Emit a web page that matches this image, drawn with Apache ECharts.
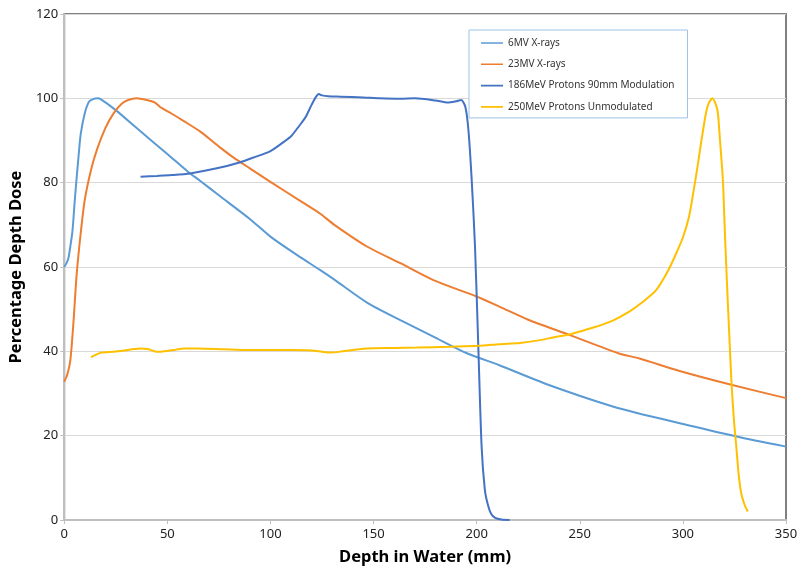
<!DOCTYPE html>
<html>
<head>
<meta charset="utf-8">
<script src="https://cdn.jsdelivr.net/npm/echarts@6/dist/echarts.min.js"></script>
<style>html,body{margin:0;padding:0;background:#fff}#c{width:807px;height:571px}</style>
</head>
<body>
<div id="c"></div>
<script>
var seriesNames = ['6MV X-rays', '23MV X-rays', '186MeV Protons 90mm Modulation', '250MeV Protons Unmodulated'];
var xTicks = [0, 50, 100, 150, 200, 250, 300, 350];
var yTicks = [0, 20, 40, 60, 80, 100, 120];

var x6MV = [0, 1, 2, 3, 4, 5, 6, 7, 8, 10, 12, 14, 16, 18, 25, 35, 50, 60, 66, 75, 90, 100, 113, 124, 131, 147, 163, 179, 195, 211, 234, 266, 280, 299, 326, 350];
var y6MV = [60, 60.8, 62, 65, 68.5, 75, 81, 86.5, 91.5, 96.5, 99.2, 99.8, 100, 99.7, 97.2, 93, 86.8, 82.6, 80.4, 77, 71.4, 67.2, 62.8, 59.3, 57, 51.5, 47.4, 43.5, 39.6, 36.7, 32.2, 26.9, 25.1, 22.9, 19.8, 17.4];

var x23MV = [0, 1.5, 3, 4.5, 6, 8, 10, 13, 16, 20, 24, 28, 31, 35, 40, 44, 47, 52, 58, 66, 76, 82, 90, 100, 115, 124, 131, 147, 163, 179, 200, 211, 225, 245, 269, 279, 298, 324, 350];
var y23MV = [32.8, 34.5, 38, 47, 58, 68, 76, 83, 88, 93, 96.5, 98.8, 99.6, 100, 99.6, 99, 97.8, 96.4, 94.6, 92.1, 88.2, 86, 83.4, 80.2, 75.5, 72.7, 70, 64.8, 60.9, 56.9, 53, 50.6, 47.5, 43.9, 39.5, 38.3, 35.4, 32, 28.9];

var x186 = [37, 45, 52, 61, 74, 85, 92, 100, 106, 110, 114, 117, 120, 122, 123.5, 125, 128, 134, 145, 153, 163, 170, 180, 186, 190, 192.5, 194.5, 196, 197.6, 199.2, 200.8, 202.4, 204, 205.5, 207, 209, 212, 216];
var y186 = [81.4, 81.6, 81.8, 82.2, 83.4, 84.8, 86, 87.5, 89.5, 91, 93.5, 95.5, 98.5, 100.3, 101, 100.7, 100.5, 100.4, 100.2, 100, 99.9, 100, 99.5, 99, 99.3, 99.6, 98, 92.5, 80.6, 64.8, 41.1, 17.4, 7, 3.5, 1.5, 0.5, 0.1, 0];

var x250 = [13, 15, 18, 24, 29, 33, 37, 41, 45, 50, 54, 58, 65, 77, 89, 110, 120, 125, 129, 135, 141, 147, 160, 171, 187, 201, 211, 221, 230, 237, 245, 250, 257, 266, 274, 280, 287, 293, 297, 300, 303, 305, 307, 309, 311, 312.5, 314.3, 316, 317, 318, 319.4, 320.3, 321.3, 322.4, 323.5, 324.7, 325.9, 327, 328.3, 330, 331.5];
var y250 = [38.6, 39.1, 39.7, 39.9, 40.2, 40.5, 40.7, 40.5, 39.9, 40.1, 40.4, 40.7, 40.7, 40.5, 40.3, 40.3, 40.2, 39.9, 39.7, 40, 40.4, 40.7, 40.8, 40.9, 41.1, 41.3, 41.7, 42, 42.6, 43.3, 44, 44.7, 45.7, 47.3, 49.4, 51.5, 54.5, 59.3, 63.5, 67, 72, 77.5, 83.5, 90, 96, 98.8, 100, 98.5, 96.4, 90, 80.6, 69, 57, 45, 33.2, 24, 17.4, 11, 6.3, 3.5, 2];

var colors = ['#5B9BD5', '#ED7D31', '#4472C4', '#FFC000'];
var FONT = 'Noto Sans';

function zip(xs, ys) { return xs.map(function (v, i) { return [v, ys[i]]; }); }
var allX = [x6MV, x23MV, x186, x250];
var allY = [y6MV, y23MV, y186, y250];

var chart = echarts.init(document.getElementById('c'), null, { renderer: 'canvas' });
chart.setOption({
  animation: false,
  backgroundColor: '#fff',
  color: colors,
  grid: { left: 63.5, right: 21, top: 14, bottom: 51, show: true, borderColor: '#808080', borderWidth: 2, containLabel: false },
  legend: {
    orient: 'vertical', left: 469, top: 30,
    padding: [6, 13, 4, 12], itemGap: 7.3, itemWidth: 22, itemHeight: 14,
    icon: 'path://M0,6.2 L22,6.2 L22,7.8 L0,7.8 Z M0,0 L0.01,0 L0.01,14 L0,14 Z',
    borderColor: '#9DC3E6', borderWidth: 1, backgroundColor: '#fff',
    textStyle: { fontSize: 10, color: '#333', fontFamily: FONT },
    data: seriesNames
  },
  xAxis: {
    type: 'value', min: xTicks[0], max: xTicks[xTicks.length - 1], interval: 50,
    name: 'Depth in Water (mm)', nameLocation: 'middle', nameGap: 29,
    nameTextStyle: { fontSize: 16.5, fontWeight: 'bold', color: '#000', fontFamily: FONT },
    axisLine: { show: true, lineStyle: { color: '#BFBFBF', width: 2 } },
    axisTick: { show: true, length: 4, lineStyle: { color: '#BFBFBF' } },
    axisLabel: { fontSize: 13, color: '#222', fontFamily: FONT, margin: 8 },
    splitLine: { show: false }
  },
  yAxis: {
    type: 'value', min: yTicks[0], max: yTicks[yTicks.length - 1], interval: 20,
    name: 'Percentage Depth Dose', nameLocation: 'middle', nameGap: 35,
    nameTextStyle: { fontSize: 16.5, fontWeight: 'bold', color: '#000', fontFamily: FONT },
    axisLine: { show: true, lineStyle: { color: '#BFBFBF', width: 2 } },
    axisTick: { show: true, length: 4, lineStyle: { color: '#BFBFBF' } },
    axisLabel: { fontSize: 13, color: '#222', fontFamily: FONT, margin: 6 },
    splitLine: { show: true, lineStyle: { color: '#D9D9D9', width: 1 } }
  },
  series: seriesNames.map(function (n, i) {
    return {
      name: n, type: 'line', data: zip(allX[i], allY[i]),
      symbol: 'none', smooth: 0.25,
      lineStyle: { width: 2, color: colors[i] }, itemStyle: { color: colors[i] }
    };
  })
});
</script>
</body>
</html>
